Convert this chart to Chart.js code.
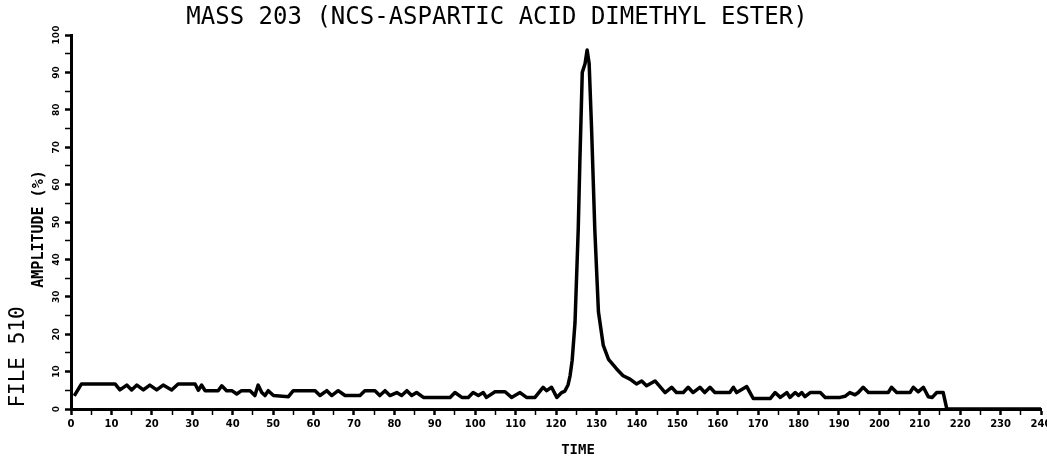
<!DOCTYPE html>
<html>
<head>
<meta charset="utf-8">
<title>MASS 203</title>
<script src="https://cdn.jsdelivr.net/npm/chart.js@4.4.0/dist/chart.umd.min.js"></script>
<style>
html, body { margin: 0; padding: 0; background: #fff; }
#wrap { width: 1047px; height: 459px; }
</style>
</head>
<body>
<div id="wrap"><canvas id="massChart" width="1047" height="459"></canvas></div>
<script>
// texts
const chartTitle = 'MASS 203 (NCS-ASPARTIC ACID DIMETHYL ESTER)';
const fileLabel = 'FILE 510';
const yAxisLabel = 'AMPLITUDE (%)';
const xAxisLabel = 'TIME';

// axis ranges (labels every 10, small ticks every 5)
const xRange = [0, 240];
const yRange = [0, 100];
const tickStep = 5;
const labelStep = 10;

// trace: time / amplitude (%)
const timeValues = [
  0.8, 2.6, 10.9, 12.1, 13.8, 15.0, 16.3, 17.9, 19.5, 21.2, 22.8, 24.9, 26.5, 30.7, 31.5, 32.3, 33.2,
  36.4, 37.3, 38.5, 39.8, 41.0, 42.2, 44.3, 45.5, 46.3, 47.2, 48.0, 48.8, 50.1, 53.8, 55.0, 60.4,
  61.6, 63.3, 64.5, 66.1, 67.8, 71.5, 72.7, 75.2, 76.4, 77.7, 78.9, 80.6, 81.8, 83.1, 84.3, 85.5,
  87.2, 93.8, 95.0, 96.7, 98.3, 99.5, 100.8, 102.0, 102.8, 104.9, 107.4, 109.0, 111.1, 112.7, 114.8,
  116.8, 117.7, 118.9, 120.2, 121.4, 122.2, 123.0, 123.5, 124.0, 124.7, 125.5, 125.9, 126.5, 127.2,
  127.7, 128.2, 128.8, 129.6, 130.5, 131.7, 133.0, 135.0, 136.6, 138.3, 139.9, 141.2, 142.4, 144.5,
  147.0, 148.6, 149.8, 151.5, 152.7, 153.9, 155.6, 156.8, 158.1, 159.3, 163.0, 163.9, 164.7, 167.2,
  168.0, 168.8, 173.0, 174.2, 175.5, 177.1, 177.9, 179.2, 180.0, 180.8, 181.6, 182.9, 185.4, 186.6,
  190.3, 191.5, 192.7, 194.0, 194.8, 196.0, 197.3, 202.2, 203.0, 204.3, 207.6, 208.4, 209.6, 210.9,
  212.1, 213.1, 214.2, 215.8, 216.7, 240
];
const amplitudeValues = [
  3.5, 6.7, 6.7, 5.1, 6.4, 5.1, 6.4, 5.1, 6.4, 5.1, 6.4, 5.1, 6.7, 6.7, 5.0, 6.4, 4.9,
  4.9, 6.2, 4.9, 4.9, 4.0, 4.9, 4.9, 3.6, 6.4, 4.4, 3.6, 4.9, 3.6, 3.3, 4.9, 4.9,
  3.6, 4.9, 3.6, 4.9, 3.6, 3.6, 4.9, 4.9, 3.6, 4.9, 3.6, 4.4, 3.6, 4.9, 3.6, 4.4,
  3.1, 3.1, 4.4, 3.1, 3.1, 4.4, 3.6, 4.4, 3.1, 4.6, 4.6, 3.1, 4.4, 3.1, 3.1,
  5.8, 4.9, 5.8, 3.1, 4.4, 4.8, 6.5, 9, 13, 23, 48, 66, 90, 92.4,
  96, 92.4, 75, 48, 26, 17, 13.3, 10.7, 8.9, 8.0, 6.7, 7.5, 6.2, 7.5,
  4.4, 5.8, 4.4, 4.4, 5.8, 4.4, 5.8, 4.4, 5.8, 4.4, 4.4, 5.8, 4.4, 6.0,
  4.4, 2.8, 2.8, 4.4, 3.1, 4.4, 3.1, 4.4, 3.6, 4.4, 3.3, 4.4, 4.4, 3.1,
  3.1, 3.4, 4.4, 3.8, 4.4, 5.8, 4.4, 4.4, 5.8, 4.4, 4.4, 5.8, 4.6, 5.8,
  3.3, 3.1, 4.4, 4.4, 0, 0
];

let tracePoints = timeValues.map(function(t, i) {
    return { x: t, y: amplitudeValues[i] };
});

function tickText(value) {
    return value % labelStep === 0 ? String(value) : '';
}

// plotter style texts round the axes
const plotterText = {
    id: 'plotterText',
    afterDraw: function(chart) {
        let ctx = chart.ctx;
        ctx.save();
        ctx.fillStyle = '#000';
        ctx.textAlign = 'center';
        ctx.textBaseline = 'middle';

        ctx.font = '24px "DejaVu Sans Mono"';
        ctx.fillText(chartTitle, 497, 18);

        ctx.font = 'bold 14px "DejaVu Sans Mono"';
        ctx.fillText(xAxisLabel, 578, 450);

        ctx.save();
        ctx.translate(19, 357);
        ctx.rotate(-Math.PI / 2);
        ctx.font = '21px "DejaVu Sans Mono"';
        ctx.fillText(fileLabel, 0, 0);
        ctx.restore();

        ctx.save();
        ctx.translate(39, 229);
        ctx.rotate(-Math.PI / 2);
        ctx.font = 'bold 15px "DejaVu Sans Mono"';
        ctx.fillText(yAxisLabel, 0, 0);
        ctx.restore();

        ctx.restore();
    }
};

let ctx = document.getElementById('massChart').getContext('2d');
let massChart = new Chart(ctx, {
    type: 'line',
    data: {
        datasets: [{
            data: tracePoints,
            borderColor: '#000',
            borderWidth: 3.5,
            borderJoinStyle: 'round',
            pointRadius: 0,
            tension: 0,
            fill: false
        }]
    },
    options: {
        responsive: false,
        animation: false,
        devicePixelRatio: 1,
        layout: { padding: { top: 35, right: 6, left: 0, bottom: 0 } },
        plugins: {
            legend: { display: false },
            tooltip: { enabled: false },
            title: { display: false }
        },
        scales: {
            x: {
                type: 'linear',
                min: xRange[0],
                max: xRange[1],
                grid: {
                    drawOnChartArea: false,
                    tickLength: 6,
                    tickColor: '#000',
                    tickWidth: function(c) { return c.tick && c.tick.value % labelStep === 0 ? 2.5 : 1.5; }
                },
                border: { color: '#000', width: 3 },
                ticks: {
                    stepSize: tickStep,
                    autoSkip: false,
                    maxRotation: 0,
                    padding: 3,
                    color: '#000',
                    font: { family: 'DejaVu Sans', size: 10, weight: 'bold' },
                    callback: tickText
                },
                afterFit: function(scale) {
                    scale.height = 50;
                    scale.paddingLeft = 0;
                    scale.paddingRight = 0;
                }
            },
            y: {
                min: yRange[0],
                max: yRange[1],
                grid: {
                    drawOnChartArea: false,
                    tickLength: 6,
                    tickColor: '#000',
                    tickWidth: function(c) { return c.tick && c.tick.value % labelStep === 0 ? 2.5 : 1.5; }
                },
                border: { color: '#000', width: 3 },
                ticks: {
                    stepSize: tickStep,
                    autoSkip: false,
                    minRotation: 90,
                    maxRotation: 90,
                    crossAlign: 'center',
                    padding: -1,
                    color: '#000',
                    font: { family: 'DejaVu Sans', size: 9, weight: 'bold' },
                    callback: tickText
                },
                afterFit: function(scale) {
                    scale.width = 71;
                    scale.paddingTop = 0;
                    scale.paddingBottom = 0;
                }
            }
        }
    },
    plugins: [plotterText]
});
</script>
</body>
</html>
